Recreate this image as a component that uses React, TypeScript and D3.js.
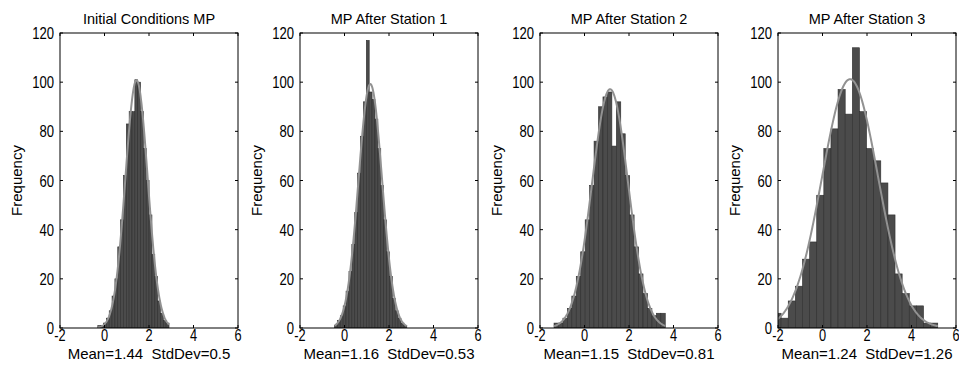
import React from "react";
import * as d3 from "d3";

// ---- Data ----
const TITLES = ["Initial Conditions MP", "MP After Station 1", "MP After Station 2", "MP After Station 3"];
const STAT_LABELS = [
  "Mean=1.44  StdDev=0.5",
  "Mean=1.16  StdDev=0.53",
  "Mean=1.15  StdDev=0.81",
  "Mean=1.24  StdDev=1.26",
];
const MEANS = [1.44, 1.16, 1.15, 1.24];
const STDDEVS = [0.5, 0.53, 0.81, 1.26];
const BIN_START = [-0.3, -0.45, -1.37, -2.18];
const BIN_WIDTH = [0.128, 0.13, 0.2, 0.32];

const COUNTS_INITIAL = [1, 1, 2, 4, 7, 13, 20, 33, 44, 62, 83, 88, 88, 101, 100, 88, 73, 60, 46, 30, 21, 11, 6, 3, 2];
const COUNTS_STATION1 = [1, 3, 5, 9, 15, 23, 34, 47, 63, 78, 92, 117, 96, 93, 85, 73, 58, 44, 31, 21, 12, 7, 4, 2, 1];
const COUNTS_STATION2 = [2, 2, 4, 8, 13, 21, 31, 44, 58, 76, 90, 94, 96, 74, 92, 79, 62, 46, 33, 22, 14, 8, 5, 6, 6];
const COUNTS_STATION3 = [6, 4, 11, 17, 28, 35, 54, 73, 81, 97, 87, 114, 88, 73, 68, 59, 46, 22, 14, 9, 9, 2, 2];
const COUNTS = [COUNTS_INITIAL, COUNTS_STATION1, COUNTS_STATION2, COUNTS_STATION3];

const X_TICKS = [-2, 0, 2, 4, 6];
const Y_TICKS = [0, 20, 40, 60, 80, 100, 120];

// ---- Layout ----
const W = 959;
const H = 373;
const PANEL_LEFT = [60, 300, 540, 778];
const PANEL_W = 178;
const TOP = 33;
const BOTTOM = 328;
const FONT = "'Liberation Sans', Arial, Helvetica, sans-serif";

function Panel({ idx }: { idx: number }) {
  const left = PANEL_LEFT[idx];
  const x = d3.scaleLinear().domain([-2, 6]).range([left, left + PANEL_W]);
  const y = d3.scaleLinear().domain([0, 120]).range([BOTTOM, TOP]);
  const counts = COUNTS[idx];
  const start = BIN_START[idx];
  const bw = BIN_WIDTH[idx];
  const n = d3.sum(counts);
  const bins = counts.map((c, i) => ({ x0: start + i * bw, x1: start + (i + 1) * bw, c }));
  const lo = start;
  const hi = start + counts.length * bw;
  const mu = MEANS[idx];
  const sd = STDDEVS[idx];
  const pts = d3.range(0, 201).map((k) => {
    const xv = lo + ((hi - lo) * k) / 200;
    const z = (xv - mu) / sd;
    const pdf = Math.exp(-0.5 * z * z) / (sd * Math.sqrt(2 * Math.PI));
    return [xv, n * bw * pdf] as [number, number];
  });
  const line = d3
    .line<[number, number]>()
    .x((d) => x(d[0]))
    .y((d) => y(d[1]));
  const clipId = `clip${idx}`;
  const cx = left + PANEL_W / 2;
  const tickLen = 3;
  return (
    <g>
      <defs>
        <clipPath id={clipId}>
          <rect x={left} y={TOP} width={PANEL_W} height={BOTTOM - TOP} />
        </clipPath>
      </defs>
      <g clipPath={`url(#${clipId})`}>
        {bins.map((b, i) => (
          <rect
            key={i}
            x={x(b.x0)}
            y={y(b.c)}
            width={x(b.x1) - x(b.x0)}
            height={BOTTOM - y(b.c)}
            fill="#4b4b4b"
            stroke="#2e2e2e"
            strokeWidth={0.6}
          />
        ))}
        <path d={line(pts) || ""} fill="none" stroke="#929292" strokeWidth={2} />
      </g>
      <rect x={left} y={TOP} width={PANEL_W} height={BOTTOM - TOP} fill="none" stroke="#000" strokeWidth={1} />
      {X_TICKS.map((t) => (
        <g key={"xt" + t}>
          <line x1={x(t)} x2={x(t)} y1={BOTTOM} y2={BOTTOM - tickLen} stroke="#000" />
          <line x1={x(t)} x2={x(t)} y1={TOP} y2={TOP + tickLen} stroke="#000" />
          <text
            transform={`translate(${x(t)},341) scale(0.8,1)`}
            textAnchor="middle"
            fontSize={16}
            fontFamily={FONT}
            fill="#000"
          >
            {t}
          </text>
        </g>
      ))}
      {Y_TICKS.map((t) => (
        <g key={"yt" + t}>
          <line x1={left} x2={left + tickLen} y1={y(t)} y2={y(t)} stroke="#000" />
          <line x1={left + PANEL_W} x2={left + PANEL_W - tickLen} y1={y(t)} y2={y(t)} stroke="#000" />
          <text
            transform={`translate(${left - 6},${y(t) + 6}) scale(0.77,1)`}
            textAnchor="end"
            fontSize={17}
            fontFamily={FONT}
            fill="#000"
          >
            {t}
          </text>
        </g>
      ))}
      <text x={cx} y={24} textAnchor="middle" fontSize={14.5} fontFamily={FONT} fill="#000">
        {TITLES[idx]}
      </text>
      <text
        x={cx}
        y={359}
        textAnchor="middle"
        fontSize={15}
        fontFamily={FONT}
        fill="#000"
        style={{ whiteSpace: "pre" }}
      >
        {STAT_LABELS[idx]}
      </text>
      <text
        transform={`translate(${left - 38},${(TOP + BOTTOM) / 2}) rotate(-90)`}
        textAnchor="middle"
        fontSize={15}
        fontFamily={FONT}
        fill="#000"
      >
        Frequency
      </text>
    </g>
  );
}

export default function App() {
  return (
    <svg width={W} height={H} style={{ position: "absolute", left: 0, top: 0, background: "#fff" }}>
      <rect x={0} y={0} width={W} height={H} fill="#fff" />
      {TITLES.map((_, i) => (
        <Panel key={i} idx={i} />
      ))}
    </svg>
  );
}
